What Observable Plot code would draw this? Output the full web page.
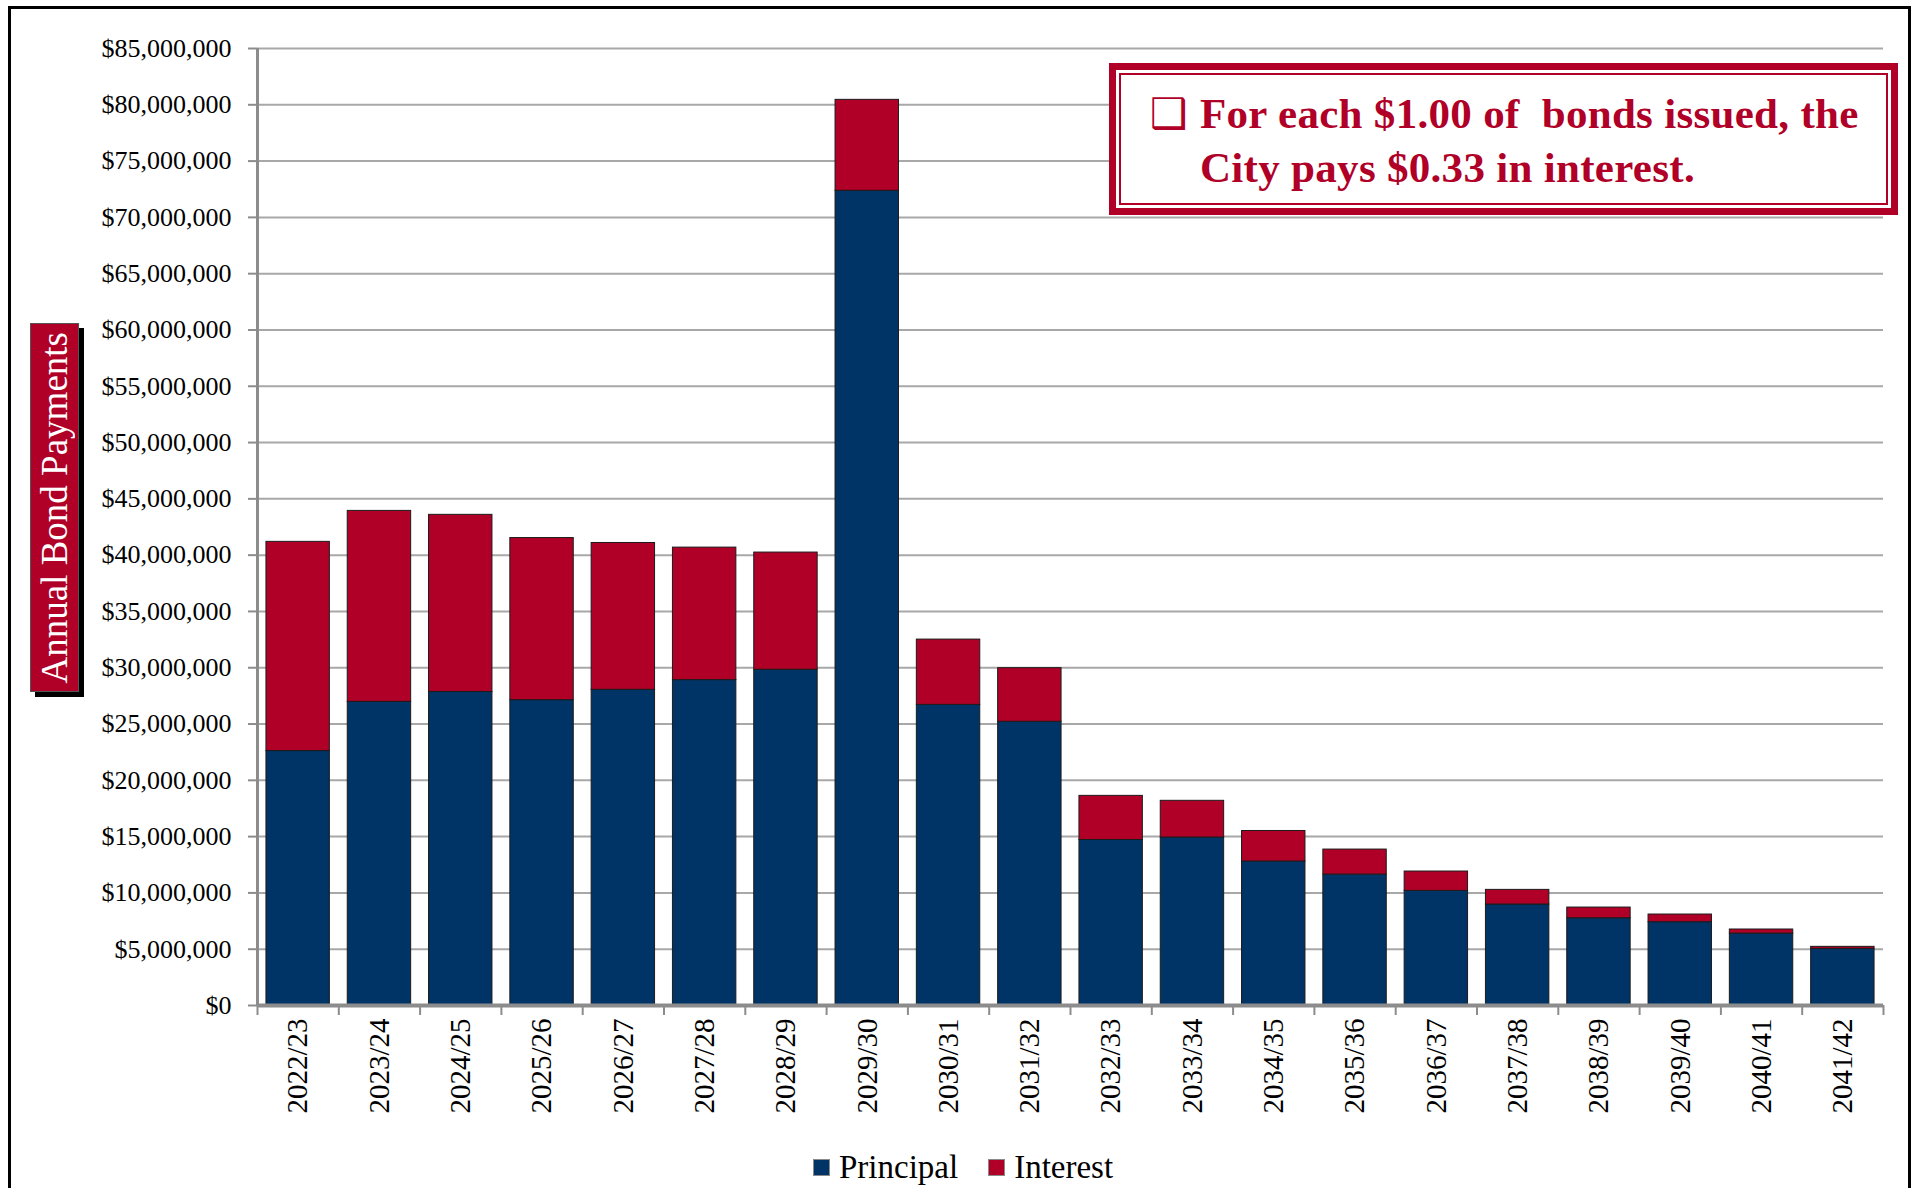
<!DOCTYPE html>
<html>
<head>
<meta charset="utf-8">
<script src="https://cdn.jsdelivr.net/npm/d3@7"></script>
<script src="https://cdn.jsdelivr.net/npm/@observablehq/plot@0.6"></script>
<style>
  html, body { margin: 0; padding: 0; background: #fff; }
  #page { position: relative; width: 1911px; height: 1188px; overflow: hidden; font-family: "Liberation Serif", serif; }
  #chart svg { display: block; }
  #frame { position: absolute; left: 8px; top: 6px; width: 1903px; height: 1300px; border: 3px solid #000; box-sizing: border-box; pointer-events: none; }
  #legend { display: flex; align-items: center; margin-left: 813px; margin-top: 13px; font-size: 33px; line-height: 38px; color: #000; }
  #legend .sw { width: 17px; height: 17px; box-sizing: border-box; border: 1px solid #8a8a8a; margin-right: 9px; }
  #legend .item { display: flex; align-items: center; margin-right: 30px; }
  #ytitle { position: absolute; left: 30px; top: 323px; width: 49px; height: 369px; box-sizing: border-box; background: #B00027; border: 1px solid #555; box-shadow: 5px 5px 0 #000; display: flex; align-items: center; justify-content: center; }
  #ytitle span { writing-mode: vertical-rl; transform: rotate(180deg); color: #fff; font-size: 37px; white-space: nowrap; }
  #note { position: absolute; left: 1109px; top: 63px; width: 789px; height: 152px; box-sizing: border-box; border: 7px solid #B00027; background: #fff; }
  #note .inner { position: absolute; left: 3px; top: 3px; right: 3px; bottom: 3px; border: 2px solid #B00027; }
  #note .txt { position: absolute; left: 84px; top: 17px; font-weight: bold; font-size: 43px; line-height: 54px; color: #B00027; white-space: nowrap; letter-spacing: 0.3px; }
  #note .box { display: inline-block; width: 50px; margin-left: -50px; font-family: "DejaVu Sans", sans-serif; font-weight: normal; font-size: 42px; }
</style>
</head>
<body>
<div id="page">
  <div id="chart"></div>
  <div id="legend"></div>
  <div id="ytitle"><span>Annual Bond Payments</span></div>
  <div id="note"><div class="inner"></div><div class="txt"><span class="box">❑</span>For each $1.00 of&nbsp; bonds issued, the<br>City pays $0.33 in interest.</div></div>
  <div id="frame"></div>
</div>
<script>
const years = ["2022/23","2023/24","2024/25","2025/26","2026/27","2027/28","2028/29","2029/30","2030/31","2031/32",
               "2032/33","2033/34","2034/35","2035/36","2036/37","2037/38","2038/39","2039/40","2040/41","2041/42"];
const principal = [22600000, 26970000, 27850000, 27120000, 28040000, 28900000, 29820000, 72360000, 26700000, 25200000,
                   14700000, 14920000, 12790000, 11630000, 10180000, 8970000, 7750000, 7400000, 6390000, 5030000];
const interest = [18580000, 16960000, 15730000, 14400000, 13040000, 11770000, 10410000, 8080000, 5800000, 4760000,
                  3920000, 3260000, 2710000, 2220000, 1720000, 1300000, 950000, 680000, 360000, 180000];
const seriesNames = ["Principal", "Interest"];
const seriesColors = ["#003366", "#B00027"];
const yTicks = [0, 5000000, 10000000, 15000000, 20000000, 25000000, 30000000, 35000000, 40000000, 45000000,
                50000000, 55000000, 60000000, 65000000, 70000000, 75000000, 80000000, 85000000];

const table = years.flatMap((yr, i) => [
  {year: yr, series: seriesNames[0], value: principal[i]},
  {year: yr, series: seriesNames[1], value: interest[i]}
]);

const W = 1911, H = 1135, ML = 257, MR = 28, MT = 48, MB = 130, PI = 0.22, PO = 0.11;
const step = (W - ML - MR) / (years.length - PI + 2 * PO);
const axisGray = "#8c8c8c";

const chart = Plot.plot({
  width: W, height: H,
  marginLeft: ML, marginRight: MR, marginTop: MT, marginBottom: MB,
  style: {fontFamily: "'Liberation Serif', serif", background: "transparent", overflow: "visible", color: "#000"},
  x: {domain: years, paddingInner: PI, paddingOuter: PO, round: false, label: null},
  y: {domain: [0, 85000000], label: null},
  color: {domain: seriesNames, range: seriesColors},
  marks: [
    Plot.ruleY(yTicks.slice(1), {stroke: "#a8a8a8", strokeWidth: 2}),
    Plot.barY(table, {x: "year", y: "value", fill: "series", stroke: "#1b1b1b", strokeWidth: 1, order: seriesNames}),
    Plot.ruleY([0], {stroke: axisGray, strokeWidth: 4}),
    Plot.ruleX([years[0]], {dx: -step / 2, y1: 85000000, y2: 0, stroke: axisGray, strokeWidth: 3}),
    Plot.axisY({ticks: yTicks, tickFormat: d3.format("$,"), tickSize: 9, tickPadding: 17, fontSize: 26,
                stroke: axisGray, strokeWidth: 2, fill: "#000", label: null}),
    Plot.axisX({tickSize: 10, dx: -step / 2, tickFormat: () => "", stroke: axisGray, strokeWidth: 2, label: null}),
    Plot.axisX({ticks: [years[years.length - 1]], tickSize: 10, dx: step / 2, tickFormat: () => "", stroke: axisGray, strokeWidth: 2, label: null}),
    Plot.axisX({tickSize: 0, tickPadding: 13, tickRotate: -90, fontSize: 29, fill: "#000", label: null})
  ]
});
document.getElementById("chart").appendChild(chart);

const legend = d3.select("#legend");
seriesNames.forEach((name, i) => {
  const item = legend.append("div").attr("class", "item");
  item.append("div").attr("class", "sw").style("background", seriesColors[i]);
  item.append("span").text(name);
});
</script>
</body>
</html>
